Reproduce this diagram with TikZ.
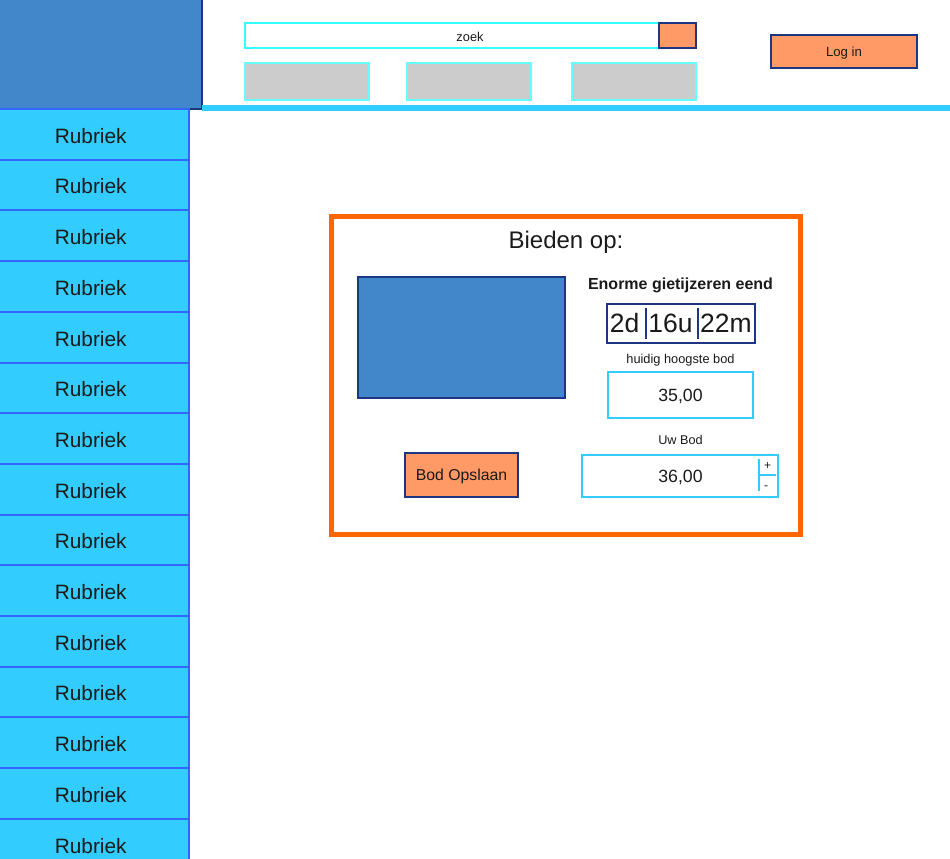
\documentclass[tikz,border=0pt]{standalone}
\usepackage{fontspec}
\setmainfont{Liberation Sans}
\definecolor{navy}{HTML}{1E3582}
\definecolor{hdrblue}{HTML}{4287C9}
\definecolor{skyc}{HTML}{33CCFF}
\definecolor{srchc}{HTML}{33FFFF}
\definecolor{grayb}{HTML}{66FFFF}
\definecolor{grayf}{HTML}{CCCCCC}
\definecolor{btnor}{HTML}{FF9966}
\definecolor{frameor}{HTML}{FF6600}
\definecolor{rubb}{HTML}{3366FF}
\definecolor{txt}{HTML}{1A1A1A}
\newcommand\fsz[1]{\fontsize{#1}{#1}\selectfont}
\newcommand\mybox[6]{\node[#2, minimum width={#5-#3}, minimum height={#6-#4}] (#1) at ({(#3+#5)/2},{(#4+#6)/2}) {};}
\tikzset{
  base/.style={inner sep=0pt, outer sep=0pt, line width=2pt, rectangle},
  hdr/.style={base, fill=hdrblue, draw=navy},
  rub/.style={base, fill=skyc, draw=rubb},
  srch/.style={base, fill=white, draw=srchc},
  gbox/.style={base, fill=grayf, draw=grayb},
  btn/.style={base, fill=btnor, draw=navy},
  frame/.style={base, draw=frameor, line width=5pt},
  img/.style={base, fill=hdrblue, draw=navy},
  tbox/.style={base, draw=navy, fill=white},
  vbox/.style={base, draw=skyc, fill=white},
  lbl/.style={inner sep=0pt, outer sep=0pt, text=txt, yshift=-1.5pt},
}
\begin{document}
\begin{tikzpicture}[x=1pt,y=-1pt]
\useasboundingbox (0,0) rectangle (950,859);
% header
\mybox{logo}{hdr}{-5}{-5}{202}{109}
\fill[skyc] (202,104.5) rectangle (960,110.5);
% sidebar
\foreach \i in {0,...,14}{
  \pgfmathsetmacro\ya{109+50.7*\i}
  \pgfmathsetmacro\yb{109+50.7*(\i+1)}
  \mybox{r\i}{rub}{-8}{\ya}{188.5}{\yb}
  \node[lbl, font=\fsz{20.8}] (r\i t) at ([xshift=0.5pt]r\i.center) {Rubriek};
}
% search
\mybox{search}{srch}{245}{23}{659}{48}
\mybox{sbtn}{btn}{659}{23}{696}{48}
\node[lbl, font=\fsz{12.8}] (zoek) at (470,35) {zoek};
\mybox{g1}{gbox}{245}{63}{369}{100}
\mybox{g2}{gbox}{407}{63}{531}{100}
\mybox{g3}{gbox}{572}{63}{696}{100}
\mybox{login}{btn}{771}{35}{917}{68}
\node[lbl, font=\fsz{13.2}] (logint) at (login.center) {Log in};
% bid frame
\mybox{frame}{frame}{331.5}{216.5}{800.5}{534}
\node[lbl, font=\fsz{24}] (title) at (566,241) {Bieden op:};
\mybox{photo}{img}{358.3}{277.3}{564.7}{398.3}
\node[lbl, font=\bfseries\fsz{16}] (name) at (680.5,284) {Enorme gietijzeren eend};
\mybox{timer}{tbox}{606.7}{304.3}{754.7}{343}
\node[lbl, font=\fsz{26.5}] (td) at (624.5,321.5) {2d};
\node[lbl, font=\fsz{26.5}] (th) at (670.5,321.5) {16u};
\node[lbl, font=\fsz{26.5}] (tm) at (726,321.5) {22m};
\coordinate (d1a) at (646.2,308);
\coordinate (d1b) at (646.2,339);
\coordinate (d2a) at (698,308);
\coordinate (d2b) at (698,339);
\draw[navy, line width=2pt] (d1a) -- (d1b);
\draw[navy, line width=2pt] (d2a) -- (d2b);
\node[lbl, font=\fsz{12.8}] (hlab) at (680.5,359) {huidig hoogste bod};
\mybox{cur}{vbox}{607.7}{372}{753.3}{418}
\node[lbl, font=\fsz{17.7}] (curv) at (cur.center) {35,00};
\node[lbl, font=\fsz{12.7}] (ulab) at (680.5,438) {Uw Bod};
\mybox{own}{vbox}{581.7}{455.3}{778.3}{497.3}
\node[lbl, font=\fsz{17.7}] (ownv) at (680.5,476) {36,00};
\coordinate (sva) at (758.5,459);
\coordinate (svb) at (758.5,491);
\coordinate (sha) at (760,474.7);
\coordinate (shb) at (775.5,474.7);
\draw[skyc, line width=2pt] (sva) -- (svb);
\draw[skyc, line width=2pt] (sha) -- (shb);
\node[lbl, font=\fsz{12}] (plus) at (767.7,464.3) {+};
\node[lbl, font=\fsz{12}] (minus) at (766,486.3) {-};
\mybox{save}{btn}{405.3}{452.7}{517.7}{497.3}
\node[lbl, font=\fsz{15.8}] (savet) at (save.center) {Bod Opslaan};
\end{tikzpicture}
\end{document}
